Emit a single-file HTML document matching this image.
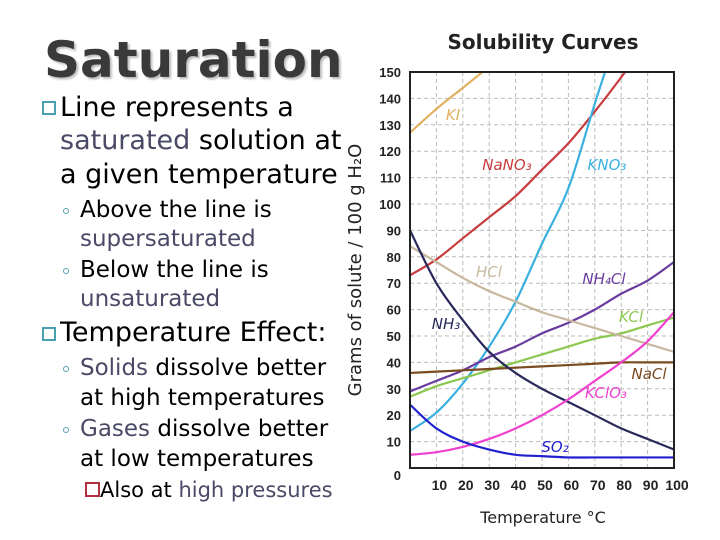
<!DOCTYPE html>
<html><head><meta charset="utf-8">
<style>
body{margin:0;width:720px;height:540px;overflow:hidden;background:#fff;position:relative;font-family:"DejaVu Sans","Liberation Sans",sans-serif;}
.t{position:absolute;white-space:nowrap;line-height:30px;color:#000;}
.h{color:#4a4a66;}
.box{position:absolute;width:14px;height:14px;border:2px solid #4aa0b0;box-sizing:border-box;}
.dot{position:absolute;width:6px;height:6px;border:1px solid #5aa0b0;border-radius:50%;box-sizing:border-box;}
</style></head><body>
<div class="t" style="left:44px;top:28px;line-height:64px;font-size:50px;font-weight:bold;color:#3a3a3a;text-shadow:2px 2px 2px #bbb;">Saturation</div>
<div class="box" style="left:42px;top:101px;"></div>
<div class="t" style="left:60px;top:93px;font-size:27px;">Line represents a</div>
<div class="t" style="left:60px;top:126px;font-size:27px;"><span class="h">saturated</span> solution at</div>
<div class="t" style="left:60px;top:160px;font-size:27px;">a given temperature</div>
<div class="dot" style="left:63px;top:208px;"></div>
<div class="t" style="left:80px;top:195px;font-size:23px;">Above the line is</div>
<div class="t" style="left:80px;top:224px;font-size:23px;"><span class="h">supersaturated</span></div>
<div class="dot" style="left:63px;top:268px;"></div>
<div class="t" style="left:80px;top:255px;font-size:23px;">Below the line is</div>
<div class="t" style="left:80px;top:284px;font-size:23px;"><span class="h">unsaturated</span></div>
<div class="box" style="left:42px;top:327px;"></div>
<div class="t" style="left:60px;top:318px;font-size:27px;">Temperature Effect:</div>
<div class="dot" style="left:63px;top:366px;"></div>
<div class="t" style="left:80px;top:353px;font-size:23px;"><span class="h">Solids</span> dissolve better</div>
<div class="t" style="left:80px;top:383px;font-size:23px;">at high temperatures</div>
<div class="dot" style="left:63px;top:427px;"></div>
<div class="t" style="left:80px;top:414px;font-size:23px;"><span class="h">Gases</span> dissolve better</div>
<div class="t" style="left:80px;top:444px;font-size:23px;">at low temperatures</div>
<div class="box" style="left:85px;top:482px;width:15px;height:15px;border-color:#b03040;"></div>
<div class="t" style="left:100px;top:475px;font-size:21px;">Also at <span class="h">high pressures</span></div>

<svg id="chart" width="720" height="540" style="position:absolute;left:0;top:0;" xmlns="http://www.w3.org/2000/svg"></svg>
<script>
const temps=[0,10,20,30,40,50,60,70,80,90,100];
const yTicks=[0,10,20,30,40,50,60,70,80,90,100,110,120,130,140,150];
const xTicks=[10,20,30,40,50,60,70,80,90,100];
const KI=[127,136,144,152,160,168,176,184,192,200,208];
const NaNO3=[73,79,87,95,103,113,123,135,148,162,176];
const KNO3=[14,21,32,46,63,85,106,138,169,202,245];
const NH4Cl=[29,33,37,42,46,51,55,60,66,71,78];
const KCl=[27,31,34,37,40,43,46,49,51,54,57];
const NaCl=[36,36.5,37,37.5,38,38.5,39,39.5,40,40,40];
const HCl=[84,78,72,67,63,59,56,53,50,47,44];
const NH3=[90,70,56,44,36,30,25,20,15,11,7];
const KClO3=[5,6,8,11,15,20,26,33,40,48,59];
const SO2=[24,15,10,7,5,4.5,4,4,4,4,4];
const seriesNames=["KI","NaNO3","KNO3","NH4Cl","KCl","NaCl","HCl","NH3","KClO3","SO2"];
const seriesData=[KI,NaNO3,KNO3,NH4Cl,KCl,NaCl,HCl,NH3,KClO3,SO2];
const colors=["#e0b060","#c83c40","#3ab0e0","#6a3ca0","#8cc850","#7a4a20","#c8b8a0","#28285a","#f040d0","#2020d0"];
const labels=[["KI",453,115],["NaNO\u2083",507,165],["KNO\u2083",607,165],["HCl",489,272],["NH\u2084Cl",604,279],["KCl",631,317],["NH\u2083",446,324],["NaCl",649,374],["KClO\u2083",606,393],["SO\u2082",555,447]];
const labelColors=["#e0b060","#c83c40","#3ab0e0","#c8b8a0","#6a3ca0","#8cc850","#28285a","#7a4a20","#f040d0","#2020d0"];
const X0=410,X1=674,Y0=468,Y1=72;
const sx=v=>X0+(X1-X0)*v/100, sy=v=>Y0-(Y0-Y1)*v/150;
const svg=document.getElementById('chart');const NS="http://www.w3.org/2000/svg";
function mk(t,a,p){const e=document.createElementNS(NS,t);for(const k in a)e.setAttribute(k,a[k]);(p||svg).appendChild(e);return e;}
const cp=mk('clipPath',{id:'cp'});mk('rect',{x:X0,y:Y1,width:X1-X0,height:Y0-Y1},cp);
mk('rect',{x:X0,y:Y1,width:X1-X0,height:Y0-Y1,fill:'#fff'});
yTicks.forEach(v=>{
 if(v>0&&v<150){const g=mk('line',{x1:X0,x2:X1,y1:sy(v),y2:sy(v),stroke:'#bbb','stroke-dasharray':'4,3'});
 
 }
 const t=mk('text',{x:401,y:sy(v)+5,'text-anchor':'end','font-size':'13','font-weight':'bold','font-family':'Liberation Sans, sans-serif',fill:'#222'});t.textContent=v;
 
 
 if(v===0)t.setAttribute('y',sy(v)+12);
});
xTicks.forEach(v=>{
 if(v<100){const g=mk('line',{x1:sx(v),x2:sx(v),y1:Y1,y2:Y0,stroke:'#bbb','stroke-dasharray':'4,3'});
 
 }
 const t=mk('text',{x:sx(v)+3,y:490,'text-anchor':'middle','font-size':'14','font-weight':'bold','font-family':'Liberation Sans, sans-serif',fill:'#222'});t.textContent=v;
 
 
});
seriesData.forEach((d,i)=>{
 let pts=d.map((v,j)=>[sx(temps[j]),sy(v)]);
 let p='M'+pts[0][0]+','+pts[0][1];
 for(let j=0;j<pts.length-1;j++){const a=pts[j-1]||pts[j],b=pts[j],c=pts[j+1],e=pts[j+2]||c;
  p+=' C'+(b[0]+(c[0]-a[0])/6)+','+(b[1]+(c[1]-a[1])/6)+' '+(c[0]-(e[0]-b[0])/6)+','+(c[1]-(e[1]-b[1])/6)+' '+c[0]+','+c[1];}
 const l=mk('path',{d:p,fill:'none',stroke:colors[i],'stroke-width':'2.2','clip-path':'url(#cp)'});
 
 
});
mk('rect',{x:X0,y:Y1,width:X1-X0,height:Y0-Y1,fill:'none',stroke:'#222','stroke-width':'2'});
labels.forEach((L,i)=>{const t=mk('text',{x:L[1],y:L[2]+5,'text-anchor':'middle','font-size':'15','font-style':'italic','font-family':'DejaVu Sans, sans-serif',fill:labelColors[i]});t.textContent=L[0];
 
 });
const tt=mk('text',{x:543,y:49,'text-anchor':'middle','font-size':'20','font-weight':'bold','font-family':'DejaVu Sans, sans-serif',fill:'#222'});tt.textContent='Solubility Curves';


const xt=mk('text',{x:543,y:523,'text-anchor':'middle','font-size':'16','font-family':'DejaVu Sans, sans-serif',fill:'#222'});xt.textContent='Temperature \u00B0C';


const yt=mk('text',{x:0,y:0,'text-anchor':'middle','font-size':'18','font-family':'DejaVu Sans, sans-serif',fill:'#222',transform:'translate(361,270) rotate(-90)'});yt.textContent='Grams of solute / 100 g H\u2082O';


</script>
</body></html>
